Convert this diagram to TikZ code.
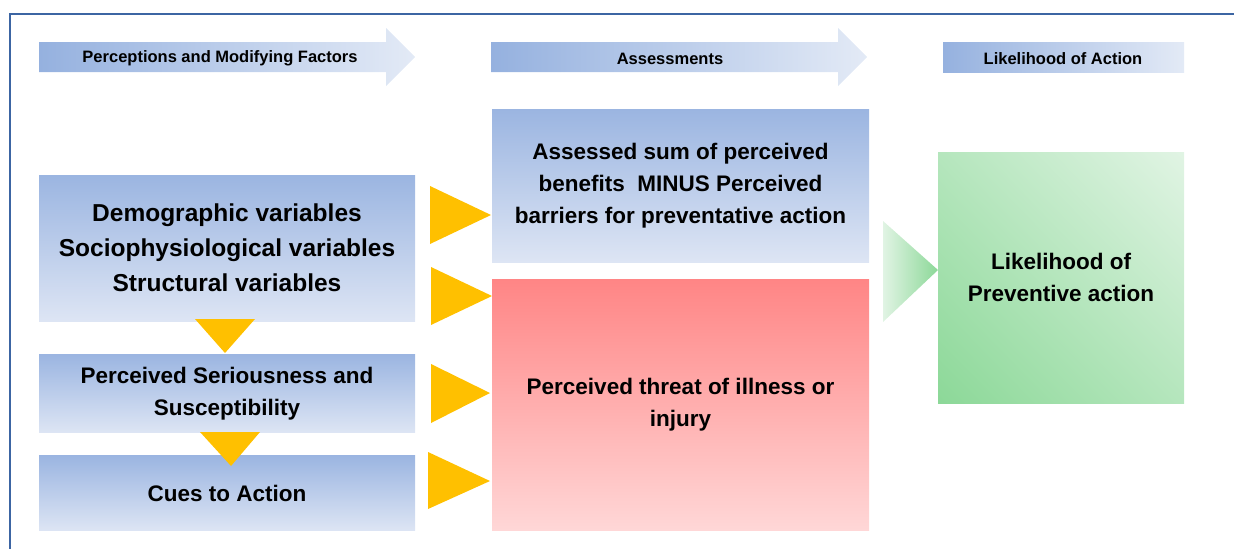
\documentclass[tikz,border=0pt]{standalone}
\usepackage{fontspec}
\setmainfont{Liberation Sans}
\usetikzlibrary{positioning,shadings}

\definecolor{frameblue}{HTML}{3C65A3}
\definecolor{boxtop}{HTML}{9BB5E1}
\definecolor{boxbot}{HTML}{DDE5F4}
\definecolor{hdleft}{HTML}{95B1DF}
\definecolor{hdright}{HTML}{E3EAF6}
\definecolor{redtop}{HTML}{FF8585}
\definecolor{redbot}{HTML}{FFD7D7}
\definecolor{gold}{HTML}{FFC000}
\definecolor{greendk}{HTML}{8CD898}
\definecolor{greenmid}{HTML}{B5E6BD}
\definecolor{greenlt}{HTML}{E1F4E4}

\begin{document}
\begin{tikzpicture}[x=1pt,y=-1pt,node distance=33pt,
  box/.style={rectangle,inner sep=0pt,minimum width=376pt,align=center,
    top color=boxtop,bottom color=boxbot,
    font=\bfseries\fontsize{22.5}{32}\selectfont},
  headtxt/.style={inner sep=0pt,font=\bfseries\fontsize{16.5}{18}\selectfont},
  chevron/.style={fill=gold}]
\useasboundingbox (0,0) rectangle (1234,549);
\draw[frameblue,line width=1.3pt] (1234,14) -- (10,14) -- (10,549);

% header arrows
\shade[left color=hdleft,right color=hdright]
  (39,42) -- (386,42) -- (386,28) -- (415,57) -- (386,86) -- (386,72) -- (39,72) -- cycle;
\shade[left color=hdleft,right color=hdright]
  (491,42) -- (838,42) -- (838,28) -- (867,57) -- (838,86) -- (838,72) -- (491,72) -- cycle;
\shade[left color=hdleft,right color=hdright] (943,42) rectangle (1184,72);
\node[headtxt] (h_perc) at (220,58.5) {Perceptions and Modifying Factors};
\node[headtxt] (h_assess) at (670,58.5) {Assessments};
\node[headtxt] (h_like) at (1063,58.5) {Likelihood of Action};

% left column
\node[box,minimum height=146pt,font=\bfseries\fontsize{24.5}{35}\selectfont] (demo) at (227,248)
  {Demographic variables\\Sociophysiological variables\\Structural variables};
\node[box,minimum height=78pt] (serious) [below=of demo]
  {Perceived Seriousness and\\Susceptibility};
\node[box,minimum height=75pt] (cues) [below=23pt of serious] {Cues to Action};

% middle column
\node[box,minimum width=377pt,minimum height=153pt] (sum) at (680.5,185.5)
  {Assessed sum of perceived\\benefits\ \ MINUS Perceived\\barriers for preventative action};
\node[box,minimum width=377pt,minimum height=251pt,top color=redtop,bottom color=redbot]
  (threat) at (680.5,404.5) {Perceived threat of illness or\\injury};

% right column
\node[box,minimum width=246pt,minimum height=251pt,
  lower left=greendk,upper right=greenlt,upper left=greenmid,lower right=greenmid]
  (likely) at (1061,277.5) {Likelihood of\\Preventive action};

% chevrons
\fill[chevron] (195,319) -- (255,319) -- (225,353) -- cycle;
\fill[chevron] (200,432) -- (260,432) -- (231,466) -- cycle;
\fill[chevron] (430,186) -- (491,215) -- (430,244) -- cycle;
\fill[chevron] (431,267) -- (492,296) -- (431,325) -- cycle;
\fill[chevron] (431,364) -- (490,393) -- (431,423) -- cycle;
\fill[chevron] (428,452) -- (490,481) -- (428,509) -- cycle;
\shade[left color=greenlt,right color=greendk] (883,221) -- (938,270) -- (883,322) -- cycle;
\end{tikzpicture}
\end{document}
